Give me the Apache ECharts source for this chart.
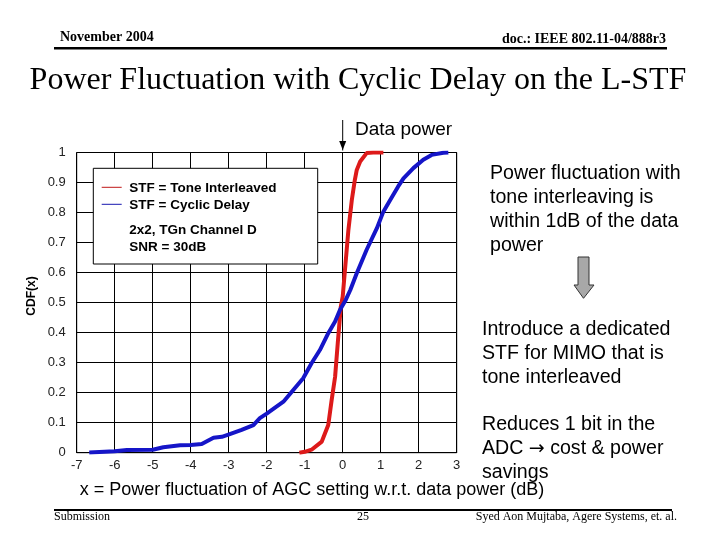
<!DOCTYPE html>
<html>
<head>
<meta charset="utf-8">
<script src="https://cdn.jsdelivr.net/npm/echarts@6/dist/echarts.min.js"></script>
<style>
html,body{margin:0;padding:0;background:#fff;}
#c{width:720px;height:540px;}
</style>
</head>
<body>
<div id="c"></div>
<script>
// ---- data ----
var seriesNames = ['STF = Tone Interleaved', 'STF = Cyclic Delay'];
var redX = [-1.14, -1.0, -0.82, -0.55, -0.38, -0.29, -0.2, -0.13, -0.05, 0.0, 0.06, 0.15, 0.24, 0.32, 0.37, 0.46, 0.63, 0.8, 1.07];
var redY = [0.0, 0.003, 0.01, 0.037, 0.092, 0.176, 0.253, 0.365, 0.487, 0.52, 0.609, 0.742, 0.842, 0.909, 0.942, 0.97, 0.998, 1.0, 1.0];
var blueX = [-6.67, -6.0, -5.68, -5.0, -4.72, -4.28, -4.0, -3.71, -3.4, -3.18, -2.99, -2.66, -2.35, -2.18, -2.0, -1.56, -1.3, -1.04, -0.82, -0.6, -0.38, -0.2, -0.07, 0.08, 0.2, 0.37, 0.63, 0.9, 1.07, 1.25, 1.46, 1.6, 1.86, 2.12, 2.34, 2.65, 2.78];
var blueY = [0.001, 0.005, 0.009, 0.01, 0.018, 0.025, 0.026, 0.029, 0.05, 0.053, 0.061, 0.076, 0.092, 0.115, 0.13, 0.17, 0.209, 0.248, 0.298, 0.342, 0.398, 0.437, 0.476, 0.509, 0.542, 0.598, 0.676, 0.748, 0.803, 0.842, 0.887, 0.914, 0.948, 0.976, 0.992, 0.999, 1.0];
var xTicks = [-7, -6, -5, -4, -3, -2, -1, 0, 1, 2, 3];
var yTicks = [0, 0.1, 0.2, 0.3, 0.4, 0.5, 0.6, 0.7, 0.8, 0.9, 1];
var dataPowerX = 0;

function zip(xs, ys) { return xs.map(function (x, i) { return [x, ys[i]]; }); }

var SANS = '"Liberation Sans", Arial, sans-serif';
var SERIF = '"Liberation Serif", "Times New Roman", serif';

var chart = echarts.init(document.getElementById('c'), null, { renderer: 'canvas' });

var option = {
  animation: false,
  backgroundColor: '#ffffff',
  grid: { left: 76.7, right: 263.3, top: 152.5, bottom: 87.3, show: true, borderColor: '#000', borderWidth: 1 },
  xAxis: {
    type: 'value', min: xTicks[0], max: xTicks[xTicks.length - 1], interval: 1,
    axisLine: { show: true, lineStyle: { color: '#000', width: 1 } },
    axisTick: { show: false },
    splitLine: { show: true, lineStyle: { color: '#000', width: 1 } },
    axisLabel: { color: '#222', fontFamily: SANS, fontSize: 13, margin: 6 }
  },
  yAxis: {
    type: 'value', min: yTicks[0], max: yTicks[yTicks.length - 1], interval: 0.1,
    axisLine: { show: true, lineStyle: { color: '#000', width: 1 } },
    axisTick: { show: false },
    splitLine: { show: true, lineStyle: { color: '#000', width: 1 } },
    axisLabel: { color: '#222', fontFamily: SANS, fontSize: 13, margin: 11,
      formatter: function (v) { return String(Math.round(v * 10) / 10); } }
  },
  series: [
    { name: seriesNames[0], type: 'line', data: zip(redX, redY), showSymbol: false, symbol: 'none',
      lineStyle: { color: '#dd1a1a', width: 4 }, z: 3 },
    { name: seriesNames[1], type: 'line', data: zip(blueX, blueY), showSymbol: false, symbol: 'none',
      lineStyle: { color: '#1515c8', width: 4 }, z: 4 }
  ]
};
chart.setOption(option);

var px0 = chart.convertToPixel({ xAxisIndex: 0, yAxisIndex: 0 }, [dataPowerX, 1]);
var ax = px0[0], ay = px0[1];

var graphics = [
  // header
  { type: 'text', style: { text: 'November 2004', x: 60, y: 37.4, font: 'bold 14px ' + SERIF, fill: '#000', textVerticalAlign: 'middle' } },
  { type: 'text', style: { text: 'doc.: IEEE 802.11-04/888r3', x: 666, y: 39.4, font: 'bold 14px ' + SERIF, fill: '#000', textAlign: 'right', textVerticalAlign: 'middle' } },
  { type: 'line', shape: { x1: 54, y1: 48.3, x2: 667, y2: 48.3 }, style: { stroke: '#000', lineWidth: 2.5 } },
  // title
  { type: 'text', style: { text: 'Power Fluctuation with Cyclic Delay on the L-STF', x: 358, y: 81, font: '32px ' + SERIF, fill: '#000', textAlign: 'center', textVerticalAlign: 'middle' } },
  // data power arrow
  { type: 'text', style: { text: 'Data power', x: 355, y: 130, font: '19px ' + SANS, fill: '#000', textVerticalAlign: 'middle' } },
  { type: 'line', shape: { x1: ax, y1: 120, x2: ax, y2: ay - 2 }, style: { stroke: '#000', lineWidth: 1 } },
  { type: 'polygon', shape: { points: [[ax - 3.5, 141], [ax + 3.5, 141], [ax, 150]] }, style: { fill: '#000' } },
  // legend box
  { type: 'rect', shape: { x: 93.3, y: 168.3, width: 224.4, height: 95.7 }, style: { fill: '#fff', stroke: '#000', lineWidth: 1 }, z: 10 },
  { type: 'line', shape: { x1: 101.7, y1: 187.3, x2: 121.7, y2: 187.3 }, style: { stroke: '#c01818', lineWidth: 1 }, z: 11 },
  { type: 'line', shape: { x1: 101.7, y1: 204.3, x2: 121.7, y2: 204.3 }, style: { stroke: '#1818b0', lineWidth: 1 }, z: 11 },
  { type: 'text', style: { text: seriesNames[0], x: 129.3, y: 188, font: 'bold 13.5px ' + SANS, fill: '#000', textVerticalAlign: 'middle' }, z: 11 },
  { type: 'text', style: { text: seriesNames[1], x: 129.3, y: 205, font: 'bold 13.5px ' + SANS, fill: '#000', textVerticalAlign: 'middle' }, z: 11 },
  { type: 'text', style: { text: '2x2, TGn Channel D', x: 129.3, y: 230, font: 'bold 13.5px ' + SANS, fill: '#000', textVerticalAlign: 'middle' }, z: 11 },
  { type: 'text', style: { text: 'SNR = 30dB', x: 129.3, y: 247, font: 'bold 13.5px ' + SANS, fill: '#000', textVerticalAlign: 'middle' }, z: 11 },
  // y axis title
  { type: 'text', rotation: Math.PI / 2, x: 32, y: 296, style: { text: 'CDF(x)', x: 0, y: 0, font: 'bold 12px ' + SANS, fill: '#000', textAlign: 'center', textVerticalAlign: 'middle' } },
  // x axis title
  { type: 'text', style: { text: 'x = Power fluctuation of AGC setting w.r.t. data power (dB)', x: 312, y: 490.5, font: '18px ' + SANS, fill: '#000', textAlign: 'center', textVerticalAlign: 'middle' } },
  // right side notes
  { type: 'text', style: { text: 'Power fluctuation with\ntone interleaving is\nwithin 1dB of the data\npower', x: 490, y: 162, font: '19.6px ' + SANS, lineHeight: 24, fill: '#000', textVerticalAlign: 'top' } },
  { type: 'polygon', shape: { points: [[578, 257], [589, 257], [589, 285], [594, 285], [583.5, 298.3], [574, 285], [578, 285]] }, style: { fill: '#a8a8a8', stroke: '#333', lineWidth: 1 } },
  { type: 'text', style: { text: 'Introduce a dedicated\nSTF for MIMO that is\ntone interleaved', x: 482, y: 318, font: '19.6px ' + SANS, lineHeight: 24, fill: '#000', textVerticalAlign: 'top' } },
  { type: 'text', style: { text: 'Reduces 1 bit in the\nADC {b|\u2192} cost & power\nsavings', x: 482, y: 413, font: '19.6px ' + SANS, lineHeight: 24, fill: '#000', textVerticalAlign: 'top',
      rich: { b: { font: '19px "DejaVu Sans", sans-serif', lineHeight: 24, fill: '#000' } } } },
  // footer
  { type: 'line', shape: { x1: 54, y1: 510, x2: 672, y2: 510 }, style: { stroke: '#000', lineWidth: 2 } },
  { type: 'text', style: { text: 'Submission', x: 54, y: 516.5, font: '12px ' + SERIF, fill: '#000', textVerticalAlign: 'middle' } },
  { type: 'text', style: { text: '25', x: 363, y: 516.5, font: '12px ' + SERIF, fill: '#000', textAlign: 'center', textVerticalAlign: 'middle' } },
  { type: 'text', style: { text: 'Syed Aon Mujtaba, Agere Systems, et. al.', x: 677, y: 516.5, font: '12px ' + SERIF, fill: '#000', textAlign: 'right', textVerticalAlign: 'middle' } }
];
chart.setOption({ graphic: graphics });
</script>
</body>
</html>
